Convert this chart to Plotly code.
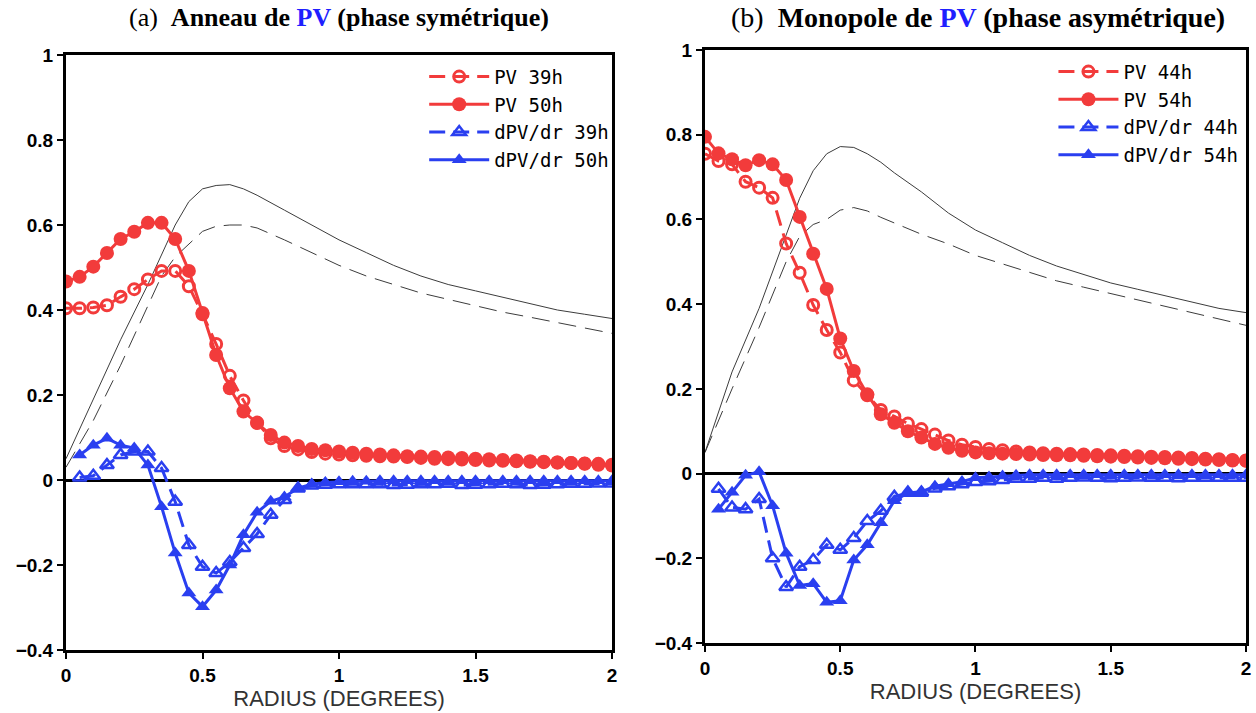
import plotly.graph_objects as go

# ---------------- data ----------------
radius = [round(0.05 * i, 2) for i in range(41)]            # 0 .. 2.0
radius_d = radius[1:]                                         # derivatives start at 0.05
radius_bg = [0, 0.1, 0.2, 0.3, 0.35, 0.4, 0.45, 0.5, 0.55, 0.6, 0.65, 0.7,
             0.8, 0.9, 1.0, 1.1, 1.2, 1.3, 1.4, 1.5, 1.6, 1.7, 1.8, 1.9, 2.0]

# Panel (a)
pv_39h = [0.404, 0.404, 0.406, 0.411, 0.431, 0.449, 0.472, 0.492, 0.492, 0.456,
          0.39, 0.32, 0.245, 0.187, 0.135, 0.098, 0.08, 0.072, 0.066, 0.062,
          0.06, 0.058, 0.057, 0.056, 0.055, 0.054, 0.052, 0.05, 0.049, 0.048,
          0.047, 0.046, 0.045, 0.044, 0.043, 0.042, 0.041, 0.04, 0.039, 0.038, 0.036]
pv_50h = [0.467, 0.478, 0.502, 0.534, 0.567, 0.584, 0.605, 0.605, 0.567, 0.492,
          0.393, 0.294, 0.216, 0.161, 0.134, 0.106, 0.088, 0.08, 0.073, 0.07,
          0.067, 0.064, 0.062, 0.06, 0.058, 0.056, 0.055, 0.054, 0.053, 0.052,
          0.05, 0.049, 0.047, 0.046, 0.044, 0.043, 0.041, 0.04, 0.038, 0.036, 0.034]
dpv_39h = [0.006, 0.01, 0.035, 0.059, 0.067, 0.067, 0.028, -0.051, -0.153, -0.204,
           -0.219, -0.193, -0.16, -0.127, -0.082, -0.047, -0.02, -0.013, -0.011, -0.01,
           -0.01, -0.01, -0.01, -0.012, -0.011, -0.01, -0.01, -0.009, -0.012, -0.011,
           -0.01, -0.009, -0.01, -0.012, -0.011, -0.01, -0.009, -0.009, -0.008, -0.008]
dpv_50h = [0.059, 0.082, 0.098, 0.082, 0.075, 0.035, -0.063, -0.172, -0.266, -0.298,
           -0.259, -0.2, -0.129, -0.076, -0.05, -0.04, -0.019, -0.01, -0.006, -0.004,
           -0.003, -0.003, -0.002, -0.002, -0.002, -0.002, -0.002, -0.002, -0.002, -0.002,
           -0.002, -0.002, -0.002, -0.002, -0.002, -0.002, -0.002, -0.002, -0.002, -0.002]
bg_solid_a = [0.05, 0.19, 0.33, 0.46, 0.53, 0.6, 0.655, 0.685, 0.693, 0.695, 0.685, 0.67,
              0.635, 0.6, 0.565, 0.535, 0.505, 0.48, 0.46, 0.445, 0.43, 0.415, 0.4, 0.39, 0.38]
bg_dash_a = [0.03, 0.14, 0.27, 0.41, 0.48, 0.525, 0.555, 0.585, 0.597, 0.6, 0.6, 0.593,
             0.565, 0.535, 0.505, 0.48, 0.46, 0.44, 0.425, 0.41, 0.395, 0.383, 0.37, 0.357, 0.345]

# Panel (b)
pv_44h = [0.755, 0.738, 0.73, 0.689, 0.675, 0.651, 0.543, 0.474, 0.398, 0.339,
          0.286, 0.22, 0.185, 0.15, 0.135, 0.118, 0.105, 0.092, 0.078, 0.068,
          0.063, 0.058, 0.055, 0.052, 0.05, 0.048, 0.047, 0.046, 0.045, 0.044,
          0.043, 0.042, 0.041, 0.04, 0.039, 0.038, 0.037, 0.035, 0.034, 0.032, 0.031]
pv_54h = [0.795, 0.756, 0.742, 0.728, 0.74, 0.73, 0.693, 0.606, 0.519, 0.436,
          0.319, 0.242, 0.187, 0.14, 0.12, 0.1, 0.085, 0.07, 0.061, 0.054,
          0.05, 0.048, 0.047, 0.046, 0.045, 0.044, 0.043, 0.043, 0.042, 0.041,
          0.04, 0.039, 0.038, 0.037, 0.036, 0.035, 0.034, 0.033, 0.032, 0.031, 0.03]
dpv_44h = [-0.036, -0.08, -0.084, -0.06, -0.2, -0.268, -0.22, -0.204, -0.168, -0.18,
           -0.152, -0.112, -0.088, -0.055, -0.045, -0.045, -0.035, -0.03, -0.025, -0.02,
           -0.018, -0.015, -0.012, -0.012, -0.01, -0.012, -0.01, -0.009, -0.01, -0.011,
           -0.01, -0.009, -0.01, -0.01, -0.011, -0.01, -0.01, -0.01, -0.01, -0.01]
dpv_54h = [-0.084, -0.044, -0.004, 0.004, -0.076, -0.188, -0.264, -0.26, -0.304, -0.3,
           -0.204, -0.168, -0.116, -0.064, -0.046, -0.043, -0.03, -0.024, -0.019, -0.01,
           -0.008, -0.006, -0.004, -0.003, -0.003, -0.003, -0.003, -0.003, -0.003, -0.003,
           -0.003, -0.003, -0.003, -0.003, -0.003, -0.003, -0.003, -0.003, -0.003, -0.003]
bg_solid_b = [0.05, 0.24, 0.39, 0.565, 0.65, 0.715, 0.755, 0.772, 0.77, 0.755, 0.735, 0.71,
              0.665, 0.615, 0.575, 0.545, 0.515, 0.49, 0.47, 0.45, 0.435, 0.42, 0.405, 0.39, 0.38]
bg_dash_b = [0.05, 0.2, 0.345, 0.5, 0.56, 0.588, 0.6, 0.622, 0.628, 0.62, 0.605, 0.592,
             0.565, 0.542, 0.515, 0.495, 0.475, 0.455, 0.44, 0.425, 0.41, 0.395, 0.38, 0.365, 0.35]

labels_a = ["PV\u00a039h", "PV\u00a050h", "dPV/dr\u00a039h", "dPV/dr\u00a050h"]
labels_b = ["PV\u00a044h", "PV\u00a054h", "dPV/dr\u00a044h", "dPV/dr\u00a054h"]
titles = ["(a)\u00a0 <b>Anneau de <span style='color:#1f1fff'>PV</span> (phase symétrique)</b>",
          "(b)\u00a0 <b>Monopole de <span style='color:#1f1fff'>PV</span> (phase asymétrique)</b>"]
x_ticks = [0, 0.5, 1, 1.5, 2]
x_ticktext = ["0", "0.5", "1", "1.5", "2"]
y_ticks = [1, 0.8, 0.6, 0.4, 0.2, 0, -0.2, -0.4]
y_ticktext = ["1", "0.8", "0.6", "0.4", "0.2", "0", "\u22120.2", "\u22120.4"]

# ---------------- styles ----------------
RED = "#f23b3b"
BLUE = "#2a3ff0"
GRAY = "#3c3c3c"

fig = go.Figure()

panels = [
    dict(xa="x", ya="y", leg="legend", solid=bg_solid_a, dash=bg_dash_a,
         series=[pv_39h, pv_50h, dpv_39h, dpv_50h], labels=labels_a),
    dict(xa="x2", ya="y2", leg="legend2", solid=bg_solid_b, dash=bg_dash_b,
         series=[pv_44h, pv_54h, dpv_44h, dpv_54h], labels=labels_b),
]

for p in panels:
    fig.add_trace(go.Scatter(x=radius_bg, y=p["solid"], mode="lines", xaxis=p["xa"], yaxis=p["ya"],
                             line=dict(color=GRAY, width=1), showlegend=False, hoverinfo="skip"))
    fig.add_trace(go.Scatter(x=radius_bg, y=p["dash"], mode="lines", xaxis=p["xa"], yaxis=p["ya"],
                             line=dict(color=GRAY, width=1, dash="18px,9px"), showlegend=False,
                             hoverinfo="skip"))
    s = p["series"]
    lb = p["labels"]
    fig.add_trace(go.Scatter(x=radius, y=s[0], mode="lines+markers", name=lb[0], legend=p["leg"],
                             xaxis=p["xa"], yaxis=p["ya"],
                             line=dict(color=RED, width=3, dash="16px,8px"),
                             marker=dict(symbol="circle-open", size=11, color=RED,
                                         line=dict(width=3, color=RED))))
    fig.add_trace(go.Scatter(x=radius, y=s[1], mode="lines+markers", name=lb[1], legend=p["leg"],
                             xaxis=p["xa"], yaxis=p["ya"],
                             line=dict(color=RED, width=3),
                             marker=dict(symbol="circle", size=14, color=RED)))
    fig.add_trace(go.Scatter(x=radius_d, y=s[2], mode="lines+markers", name=lb[2], legend=p["leg"],
                             xaxis=p["xa"], yaxis=p["ya"],
                             line=dict(color=BLUE, width=3, dash="16px,8px"),
                             marker=dict(symbol="triangle-up-open", size=12, color=BLUE,
                                         line=dict(width=2.5, color=BLUE))))
    fig.add_trace(go.Scatter(x=radius_d, y=s[3], mode="lines+markers", name=lb[3], legend=p["leg"],
                             xaxis=p["xa"], yaxis=p["ya"],
                             line=dict(color=BLUE, width=3),
                             marker=dict(symbol="triangle-up", size=13, color=BLUE)))

tickfont = dict(family="Liberation Sans Narrow, Liberation Sans, Arial", size=19, color="black",
                weight="bold")
axis_common = dict(showgrid=False, showline=True, linecolor="black", linewidth=3, mirror=True,
                   ticks="outside", ticklen=6, tickwidth=2, tickcolor="black", tickfont=tickfont,
                   automargin=False)

xcommon = dict(axis_common, range=[0, 2], tickvals=x_ticks, ticktext=x_ticktext, zeroline=False,
               title=dict(text="RADIUS (DEGREES)",
                          font=dict(family="Liberation Sans", size=22, color="#333"), standoff=0))
ycommon = dict(axis_common, range=[-0.4, 1], tickvals=y_ticks, ticktext=y_ticktext,
               zeroline=True, zerolinecolor="black", zerolinewidth=3)

legend_font = dict(family="DejaVu Sans Mono", size=19, color="black")

fig.update_layout(
    width=1256, height=713,
    margin=dict(l=0, r=0, t=0, b=0, autoexpand=False),
    paper_bgcolor="white", plot_bgcolor="white",
    xaxis=dict(xcommon, domain=[0.05255, 0.48726], anchor="y"),
    yaxis=dict(ycommon, domain=[0.08836, 0.92286], anchor="x"),
    xaxis2=dict(xcommon, domain=[0.5613, 0.99204], anchor="y2"),
    yaxis2=dict(ycommon, domain=[0.09818, 0.92987], anchor="x2"),
    legend=dict(x=0.489, y=0.919, xanchor="right", yanchor="top", bgcolor="rgba(255,255,255,0)",
                font=legend_font, tracegroupgap=0, itemwidth=60),
    legend2=dict(x=0.99, y=0.926, xanchor="right", yanchor="top", bgcolor="rgba(255,255,255,0)",
                 font=legend_font, tracegroupgap=0, itemwidth=60),
    annotations=[
        dict(text=titles[0], x=(0.05255 + 0.48726) / 2, y=0.975, xref="paper", yref="paper",
             xanchor="center", yanchor="middle", showarrow=False,
             font=dict(family="Liberation Serif", size=26, color="black")),
        dict(text=titles[1], x=0.7785, y=0.975, xref="paper", yref="paper",
             xanchor="center", yanchor="middle", showarrow=False,
             font=dict(family="Liberation Serif", size=28, color="black")),
    ],
)

fig.write_html("out.html", config={"displayModeBar": False},
               post_script="document.body.style.margin='0px';document.body.style.overflow='hidden';")
